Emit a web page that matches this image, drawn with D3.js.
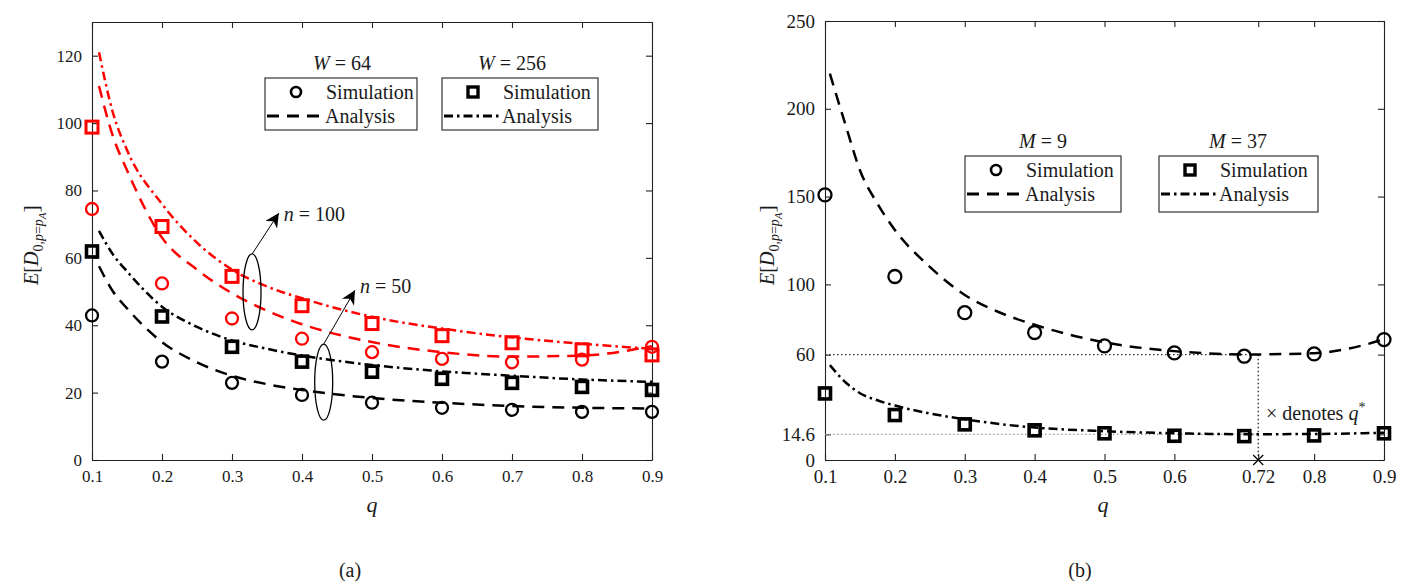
<!DOCTYPE html>
<html><head><meta charset="utf-8">
<script src="https://cdn.jsdelivr.net/npm/d3@7"></script>
<style>
body{margin:0;background:#fff}
text{font-family:"Liberation Serif","DejaVu Serif",serif;fill:#1a1a1a}
</style>
</head><body>
<svg id="c" width="1419" height="586"></svg>
<script>
// ---------- DATA ----------
const qTicks = [0.1,0.2,0.3,0.4,0.5,0.6,0.7,0.8,0.9];
const qSim = [0.1,0.2,0.3,0.4,0.5,0.6,0.7,0.8,0.9];
// panel (a)
const yTicksA = [0,20,40,60,80,100,120];
const simW64n100  = [74.5,52.4,42,36,32,30,29,29.8,33.6];
const simW256n100 = [98.8,69.3,54.5,45.8,40.5,36.9,34.8,32.7,31.2];
const simW64n50   = [42.9,29.2,22.9,19.3,17,15.5,14.9,14.3,14.3];
const simW256n50  = [61.9,42.6,33.6,29.2,26.2,24.1,22.9,21.7,20.8];
const qAnaA = [0.11,0.13,0.15,0.2,0.25,0.3,0.35,0.4,0.5,0.6,0.7,0.8,0.9];
const anaW64n100  = [111,96,86,66,56.5,49.5,44.3,40.3,35,32,30.7,31,33.8];
const anaW256n100 = [121,103,92,76,64.5,56.5,51.5,48,42.5,39,36.4,34.5,33];
const anaW64n50   = [57.5,50,45,35,29,25,22.5,20.8,18.4,17,16,15.5,15.3];
const anaW256n50  = [68,61,56,45.5,39.5,35.5,33,31,28.2,26.3,25,23.9,23.2];
// panel (b)
const qTicksB = [0.1,0.2,0.3,0.4,0.5,0.6,0.72,0.8,0.9];
const yTicksB = [0,14.6,60,100,150,200,250];
const simM9  = [151,104.5,83.9,72.6,65,61,59.1,60.4,68.6];
const simM37 = [37.9,25.6,20.3,16.9,15.2,13.8,13.6,14,15.2];
const qAnaB = [0.107,0.13,0.15,0.175,0.2,0.25,0.3,0.35,0.4,0.5,0.6,0.7,0.8,0.85,0.9];
const anaM9  = [220,190,165,146,131,110,94,84,77,67,62,60.1,60.8,63.5,68.7];
const anaM37 = [54,44,38,34,31,26.5,23.2,20.5,18.5,16.4,15.2,14.7,14.8,15.1,15.5];
const qStar = 0.72, minM9 = 60, minM37 = 14.6;

// ---------- HELPERS ----------
const svg = d3.select("#c");
svg.append("rect").attr("width",1419).attr("height",586).attr("fill","#fff");
const DASH = "12,8", DASHDOT = "9,4,2.5,4";
const RED = "#ff0000", BLK = "#000";

function panel(x0,x1,y0,y1,xDom,yDom,xt,yt,fs){
  const x = d3.scaleLinear().domain(xDom).range([x0,x1]);
  const y = d3.scaleLinear().domain(yDom).range([y0,y1]);
  const g = svg.append("g");
  const fmt = d => (d3.format("~g"))(d);
  const ax = (gen, tr, lab) => {
    const a = g.append("g").attr("transform",tr).call(gen.tickSizeInner(-6).tickSizeOuter(0).tickPadding(lab?10:0).tickFormat(lab?fmt:""));
    a.selectAll("path,line").attr("stroke","#222").attr("stroke-width",1.1);
    a.selectAll("text").attr("font-size",fs).attr("font-family","Liberation Serif").attr("fill","#1a1a1a");
    return a;
  };
  ax(d3.axisBottom(x).tickValues(xt),`translate(0,${y0})`,true);
  ax(d3.axisTop(x).tickValues(xt),`translate(0,${y1})`,false);
  ax(d3.axisLeft(y).tickValues(yt),`translate(${x0},0)`,true);
  ax(d3.axisRight(y).tickValues(yt),`translate(${x1},0)`,false);
  return {x,y,g};
}
function curve(p,qs,vs,color,dash){
  const line = d3.line().x((d,i)=>p.x(qs[i])).y(d=>p.y(d)).curve(d3.curveMonotoneX);
  p.g.append("path").datum(vs).attr("d",line).attr("fill","none")
    .attr("stroke",color).attr("stroke-width",2.5).attr("stroke-dasharray",dash);
}
function circles(p,vs,color,r){
  p.g.selectAll(null).data(vs).enter().append("circle")
    .attr("cx",(d,i)=>p.x(qSim[i])).attr("cy",d=>p.y(d)).attr("r",r)
    .attr("fill","none").attr("stroke",color).attr("stroke-width",2.3);
}
function squares(p,vs,color,s,sw){
  p.g.selectAll(null).data(vs).enter().append("rect")
    .attr("x",(d,i)=>p.x(qSim[i])-s/2).attr("y",d=>p.y(d)-s/2).attr("width",s).attr("height",s)
    .attr("fill","none").attr("stroke",color).attr("stroke-width",sw);
}
function mathText(g,x,y,parts,size,anchor){
  const t = g.append("text").attr("x",x).attr("y",y).attr("font-size",size).attr("text-anchor",anchor||"start");
  parts.forEach(p=>{
    const s = t.append("tspan").text(p.t);
    if(p.i) s.attr("font-style","italic");
    if(p.dy) s.attr("dy",p.dy);
    if(p.fs) s.attr("font-size",p.fs);
  });
  return t;
}
function legend(g,x,y,w,h,title,titleX,marker,dash){
  mathText(g,titleX,y-8,title,20,"middle");
  g.append("rect").attr("x",x).attr("y",y).attr("width",w).attr("height",h)
    .attr("fill","#fff").attr("stroke","#222").attr("stroke-width",1.1);
  if(marker==="c") g.append("circle").attr("cx",x+31).attr("cy",y+14).attr("r",5)
    .attr("fill","none").attr("stroke","#000").attr("stroke-width",2.6);
  else g.append("rect").attr("x",x+26).attr("y",y+9).attr("width",10).attr("height",10)
    .attr("fill","none").attr("stroke","#000").attr("stroke-width",3.4);
  g.append("text").attr("x",x+61).attr("y",y+21).attr("font-size",20).text("Simulation");
  g.append("line").attr("x1",x+2).attr("x2",x+58).attr("y1",y+38).attr("y2",y+38)
    .attr("stroke","#000").attr("stroke-width",3).attr("stroke-dasharray",dash);
  g.append("text").attr("x",x+60).attr("y",y+45).attr("font-size",20).text("Analysis");
}
const ylabParts = [{t:"E",i:1},{t:"["},{t:"D",i:1},{t:"0,",fs:14,dy:5},{t:"p",i:1,fs:14},{t:"=",fs:14},{t:"p",i:1,fs:14},{t:"A",i:1,fs:11,dy:3},{t:"]",fs:22,dy:-8}];

// ---------- PANEL (a) ----------
const A = panel(92,652,460,22,[0.1,0.9],[0,130],qTicks,yTicksA,17);
curve(A,qAnaA,anaW256n100,RED,DASHDOT);
curve(A,qAnaA,anaW64n100,RED,DASH);
curve(A,qAnaA,anaW256n50,BLK,DASHDOT);
curve(A,qAnaA,anaW64n50,BLK,DASH);
circles(A,simW64n100,RED,6);
squares(A,simW256n100,RED,12,3);
circles(A,simW64n50,BLK,6);
squares(A,simW256n50,BLK,11,3.6);
// annotations (data units)
const annA = [
  {cq:0.3286,cv:49.9,fq:0.3286,fv:61.1,tq:0.367,tv:73.3,lq:0.374,lv:70.8,lab:"100"},
  {cq:0.431,cv:23.1,fq:0.431,fv:34.4,tq:0.4757,tv:50.4,lq:0.483,lv:49.5,lab:"50"}
];
svg.append("defs").append("marker").attr("id","ah").attr("viewBox","0 0 10 10")
  .attr("refX",10).attr("refY",5).attr("markerWidth",14).attr("markerHeight",14)
  .attr("markerUnits","userSpaceOnUse").attr("orient","auto")
  .append("path").attr("d","M0,0 L10,5 L0,10 L3,5 Z").attr("fill","#000");
annA.forEach(a=>{
  A.g.append("ellipse").attr("cx",A.x(a.cq)).attr("cy",A.y(a.cv)).attr("rx",9).attr("ry",38)
    .attr("fill","none").attr("stroke","#000").attr("stroke-width",1.3);
  A.g.append("line").attr("x1",A.x(a.fq)).attr("y1",A.y(a.fv)).attr("x2",A.x(a.tq)).attr("y2",A.y(a.tv))
    .attr("stroke","#000").attr("stroke-width",1).attr("marker-end","url(#ah)");
  mathText(A.g,A.x(a.lq),A.y(a.lv),[{t:"n",i:1},{t:" = "+a.lab}],20);
});
legend(A.g,265,78,152,52,[{t:"W",i:1},{t:" = 64"}],342,"c",DASH);
legend(A.g,442,78,156,52,[{t:"W",i:1},{t:" = 256"}],512,"s",DASHDOT);
mathText(svg,0,0,ylabParts,20,"middle").attr("transform","translate(38,245) rotate(-90)");
mathText(svg,372,512,[{t:"q",i:1}],22,"middle");
svg.append("text").attr("x",350).attr("y",577).attr("font-size",20).attr("text-anchor","middle").text("(a)");

// ---------- PANEL (b) ----------
const B = panel(825,1384,460,21,[0.1,0.9],[0,250],qTicksB,yTicksB,19);
// reference lines
B.g.append("line").attr("x1",B.x(0.1)).attr("x2",B.x(qStar)).attr("y1",B.y(minM9)).attr("y2",B.y(minM9))
  .attr("stroke","#333").attr("stroke-width",1.1).attr("stroke-dasharray","1.5,2.5");
B.g.append("line").attr("x1",B.x(0.1)).attr("x2",B.x(qStar)).attr("y1",B.y(minM37)).attr("y2",B.y(minM37))
  .attr("stroke","#999").attr("stroke-width",1.1).attr("stroke-dasharray","1.5,2.5");
B.g.append("line").attr("x1",B.x(qStar)).attr("x2",B.x(qStar)).attr("y1",B.y(minM9)).attr("y2",B.y(0))
  .attr("stroke","#000").attr("stroke-width",1.1).attr("stroke-dasharray","1.5,2.5");
B.g.append("path").attr("d",`M${B.x(qStar)-5},${B.y(0)-5}L${B.x(qStar)+5},${B.y(0)+5}M${B.x(qStar)-5},${B.y(0)+5}L${B.x(qStar)+5},${B.y(0)-5}`)
  .attr("stroke","#000").attr("stroke-width",1.2);
curve(B,qAnaB,anaM9,BLK,DASH);
curve(B,qAnaB,anaM37,BLK,DASHDOT);
circles(B,simM9,BLK,6.5);
squares(B,simM37,BLK,11,3.6);
mathText(B.g,1266,420,[{t:"× denotes "},{t:"q",i:1},{t:"*",fs:14,dy:-8}],20);
legend(B.g,965,156,156,56,[{t:"M",i:1},{t:" = 9"}],1043,"c",DASH);
legend(B.g,1159,156,159,56,[{t:"M",i:1},{t:" = 37"}],1238,"s",DASHDOT);
mathText(svg,0,0,ylabParts,20,"middle").attr("transform","translate(774,245) rotate(-90)");
mathText(svg,1103,512,[{t:"q",i:1}],22,"middle");
svg.append("text").attr("x",1080).attr("y",577).attr("font-size",20).attr("text-anchor","middle").text("(b)");
</script>
</body></html>
